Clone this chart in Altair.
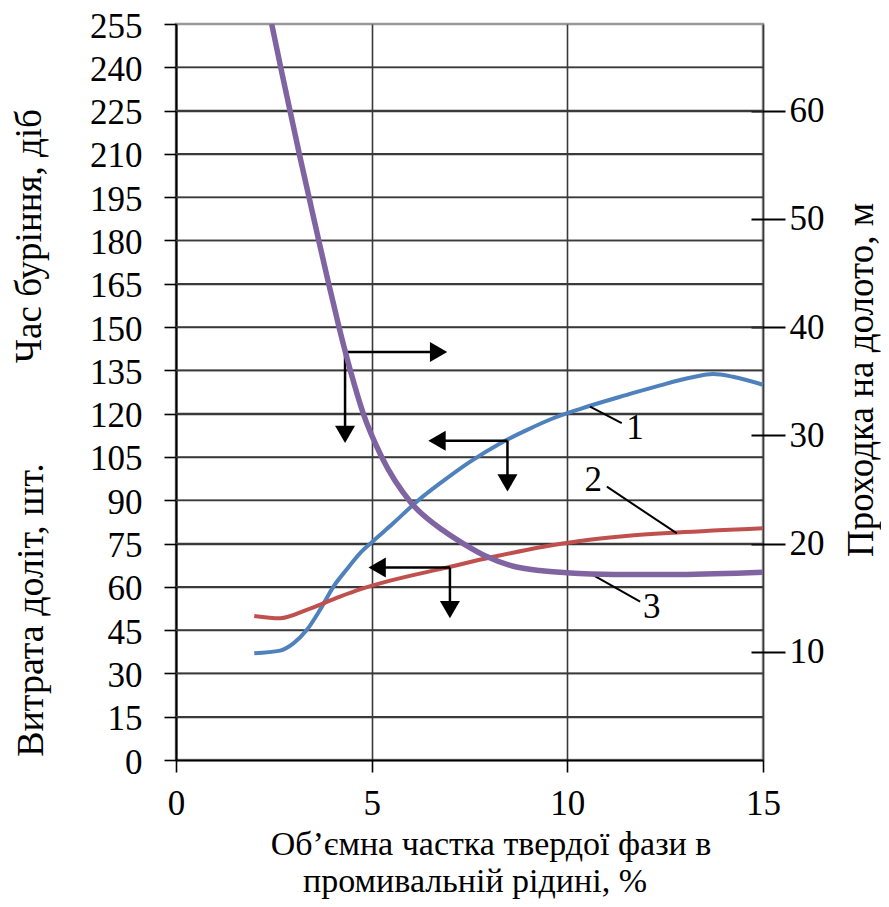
import altair as alt
import pandas as pd

FONT = "Liberation Serif"
FS_TICK = 35
FS_TITLE = 38

# ---- data ----
x_ticks = [0, 5, 10, 15]
left_ticks = list(range(0, 256, 15))
right_ticks = [10, 20, 30, 40, 50, 60]

# curve 1 (blue), left axis units
blue_x = [2.0, 2.66, 3.0, 3.34, 3.68, 4.02, 4.36, 4.70, 5.0, 5.55, 6.15, 6.83, 7.51, 8.28, 8.96, 9.64, 10.32, 11.52, 12.37, 13.2, 13.72, 14.23, 15.0]
blue_y = [37.0, 37.9, 40.4, 45.0, 52.0, 60.0, 66.0, 71.6, 75.4, 82.0, 89.5, 96.7, 103.3, 109.7, 114.3, 118.4, 121.6, 126.5, 129.8, 132.6, 133.7, 132.8, 130.0]

# curve 2 (red), left axis units
red_x = [2.0, 2.66, 3.34, 4.19, 4.70, 5.55, 6.83, 8.11, 9.39, 10.32, 11.5, 12.8, 15.0]
red_y = [49.9, 49.1, 52.0, 56.6, 59.1, 62.4, 66.4, 70.4, 73.9, 75.9, 77.6, 78.8, 80.3]

# curve 3 (purple), right axis units (metres)
purple_x = [2.445, 2.675, 2.913, 3.151, 3.399, 3.647, 3.902, 4.166, 4.454, 4.786, 5.256, 6.0, 6.83, 7.34, 7.94, 8.62, 9.30, 9.98, 11.18, 12.88, 15.0]
purple_m = [68.0, 64.0, 60.0, 56.0, 52.0, 48.0, 44.0, 40.0, 36.0, 32.0, 28.0, 23.8, 21.2, 20.0, 18.8, 17.9, 17.5, 17.3, 17.15, 17.15, 17.35]

# arrow shafts (left-axis units)
shaft_x = [4.32, 4.32, 8.47, 8.47, 7.0, 7.0]
shaft_y = [141.4, 141.4, 110.6, 110.6, 66.7, 66.7]
shaft_x2 = [6.71, 4.32, 6.67, 8.47, 5.14, 7.0]
shaft_y2 = [141.4, 112.8, 110.6, 96.0, 66.7, 52.1]
# arrow heads
head_x = [6.71, 4.32, 6.67, 8.47, 5.14, 7.0]
head_y = [141.4, 112.8, 110.6, 96.0, 66.7, 52.1]
head_shape = ["triangle-right", "triangle-down", "triangle-left", "triangle-down", "triangle-left", "triangle-down"]

# curve labels and leader lines
label_text = ["1", "2", "3"]
label_x = [11.73, 10.66, 12.16]
label_y = [115.0, 97.0, 53.1]
leader_x = [10.58, 11.01, 10.58]
leader_y = [122.4, 94.7, 64.7]
leader_x2 = [11.39, 12.80, 11.86]
leader_y2 = [116.7, 78.5, 54.9]

# ---- tables ----
W, H = 587, 736
LEFT_MAX, RIGHT_MAX = 255.0, 68.0
grid_vals = [float(v) for v in left_ticks if 0 < v < 255]
n = len(grid_vals)
df_grid = pd.DataFrame({"gx": [float(x_ticks[0])] * n, "gx2": [float(x_ticks[-1])] * n,
                        "gy": grid_vals, "gy2": grid_vals})
df_blue = pd.DataFrame({"x": blue_x, "y": blue_y})
df_red = pd.DataFrame({"x": red_x, "y": red_y})
df_purple = pd.DataFrame({"x": purple_x, "y": purple_m})
df_shaft = pd.DataFrame({"x": shaft_x, "y": shaft_y, "x2": shaft_x2, "y2": shaft_y2})
df_head = pd.DataFrame({"x": head_x, "y": head_y, "shape": head_shape})
df_label = pd.DataFrame({"x": label_x, "y": label_y, "t": label_text})
df_leader = pd.DataFrame({"x": leader_x, "y": leader_y, "x2": leader_x2, "y2": leader_y2})

xs = alt.Scale(domain=[0, 15], nice=False, zero=False)
yl = alt.Scale(domain=[0, LEFT_MAX], nice=False, zero=False)
yg = alt.Scale(domain=[0, LEFT_MAX], nice=False, zero=False)
yr = alt.Scale(domain=[0, RIGHT_MAX], nice=False, zero=False)

GRID = "#3a3a3a"
x_axis = alt.Axis(values=x_ticks, grid=True, gridColor=GRID, gridWidth=1.6,
                  domainColor="#000000", domainWidth=2, tickColor="#000000", tickWidth=1.6,
                  tickSize=12, labelFont=FONT, labelFontSize=FS_TICK, labelColor="#000000",
                  labelPadding=14, title=None, labelFlush=False)
yl_axis = alt.Axis(values=left_ticks, orient="left", grid=False,
                   domainColor="#000000", domainWidth=2, tickColor="#000000", tickWidth=1.6,
                   tickSize=12, labelFont=FONT, labelFontSize=FS_TICK, labelColor="#000000",
                   labelPadding=22, labelOffset=2, title=None, format="d")
yr_axis = alt.Axis(values=right_ticks, orient="right", grid=False, domain=False,
                   tickColor="#000000", tickWidth=2, tickSize=34, offset=-12,
                   labelFont=FONT, labelFontSize=FS_TICK, labelColor="#000000",
                   labelPadding=4, title=None, format="d")
# an extra axis whose long ticks span the plot: the horizontal gridlines
grid_axis = alt.Axis(values=grid_vals, orient="right", offset=-W, tickSize=W,
                     tickColor=GRID, tickWidth=1.6, domain=False, labels=False,
                     grid=False, title=None)

X = alt.X("x:Q", scale=xs, axis=x_axis)
Y = alt.Y("y:Q", scale=yl, axis=yl_axis)

hgrid = alt.Chart(df_grid).mark_rule(color=GRID, strokeWidth=1.6).encode(
    x=alt.X("gx:Q", scale=xs, axis=x_axis), x2="gx2:Q",
    y=alt.Y("gy:Q", scale=yg, axis=grid_axis), y2="gy2:Q")

blue = alt.Chart(df_blue).mark_line(color="#4F81BD", strokeWidth=4, interpolate="monotone").encode(x=X, y=Y)
red = alt.Chart(df_red).mark_line(color="#C0504D", strokeWidth=4, interpolate="monotone").encode(x=X, y=Y)

shafts = alt.Chart(df_shaft).mark_rule(color="#000000", strokeWidth=2.5).encode(
    x=X, y=Y, x2="x2:Q", y2="y2:Q")
heads = alt.Chart(df_head).mark_point(filled=True, size=400, opacity=1, color="#000000").encode(
    x=X, y=Y, shape=alt.Shape("shape:N", scale=None))
leaders = alt.Chart(df_leader).mark_rule(color="#000000", strokeWidth=2).encode(
    x=X, y=Y, x2="x2:Q", y2="y2:Q")
labels = alt.Chart(df_label).mark_text(font=FONT, fontSize=FS_TICK, color="#000000",
                                       align="center", baseline="middle").encode(
    x=X, y=Y, text="t:N")

def title_text(lines, px, py, fs, angle=0):
    d = pd.DataFrame({"t": [lines]})
    kw = dict(font=FONT, fontSize=fs, color="#000000", align="center", baseline="alphabetic")
    if angle:
        kw["angle"] = angle
    return alt.Chart(d).mark_text(**kw).encode(x=alt.value(px), y=alt.value(py), text="t:N")

t_left1 = title_text("Час буріння, діб", -135, 212, 37, 270)
t_left2 = title_text("Витрата доліт, шт.", -133, 586, FS_TITLE, 270)
t_right = title_text("Проходка на долото, м", 697, 356, 37, 270)
t_x1 = title_text("Об’ємна частка твердої фази в", 315, 831, 34)
t_x2 = title_text("промивальній рідині, %", 299, 868, 34)

left = alt.layer(blue, red, shafts, heads, leaders, labels, t_left1, t_left2, t_right, t_x1, t_x2)

purple = alt.Chart(df_purple).mark_line(color="#8064A2", strokeWidth=5.5, interpolate="monotone", clip=True).encode(
    x=X, y=alt.Y("y:Q", scale=yr, axis=yr_axis))

chart = alt.layer(hgrid, left, purple).resolve_scale(y="independent").properties(
    width=W, height=H,
    autosize=alt.AutoSizeParams(type="none"),
    padding={"left": 168, "top": 16, "right": 118, "bottom": 139},
    background="white",
).configure_view(stroke="#999999", strokeWidth=2.5)

chart.save("out.html", embed_options={"renderer": "svg", "actions": False})
